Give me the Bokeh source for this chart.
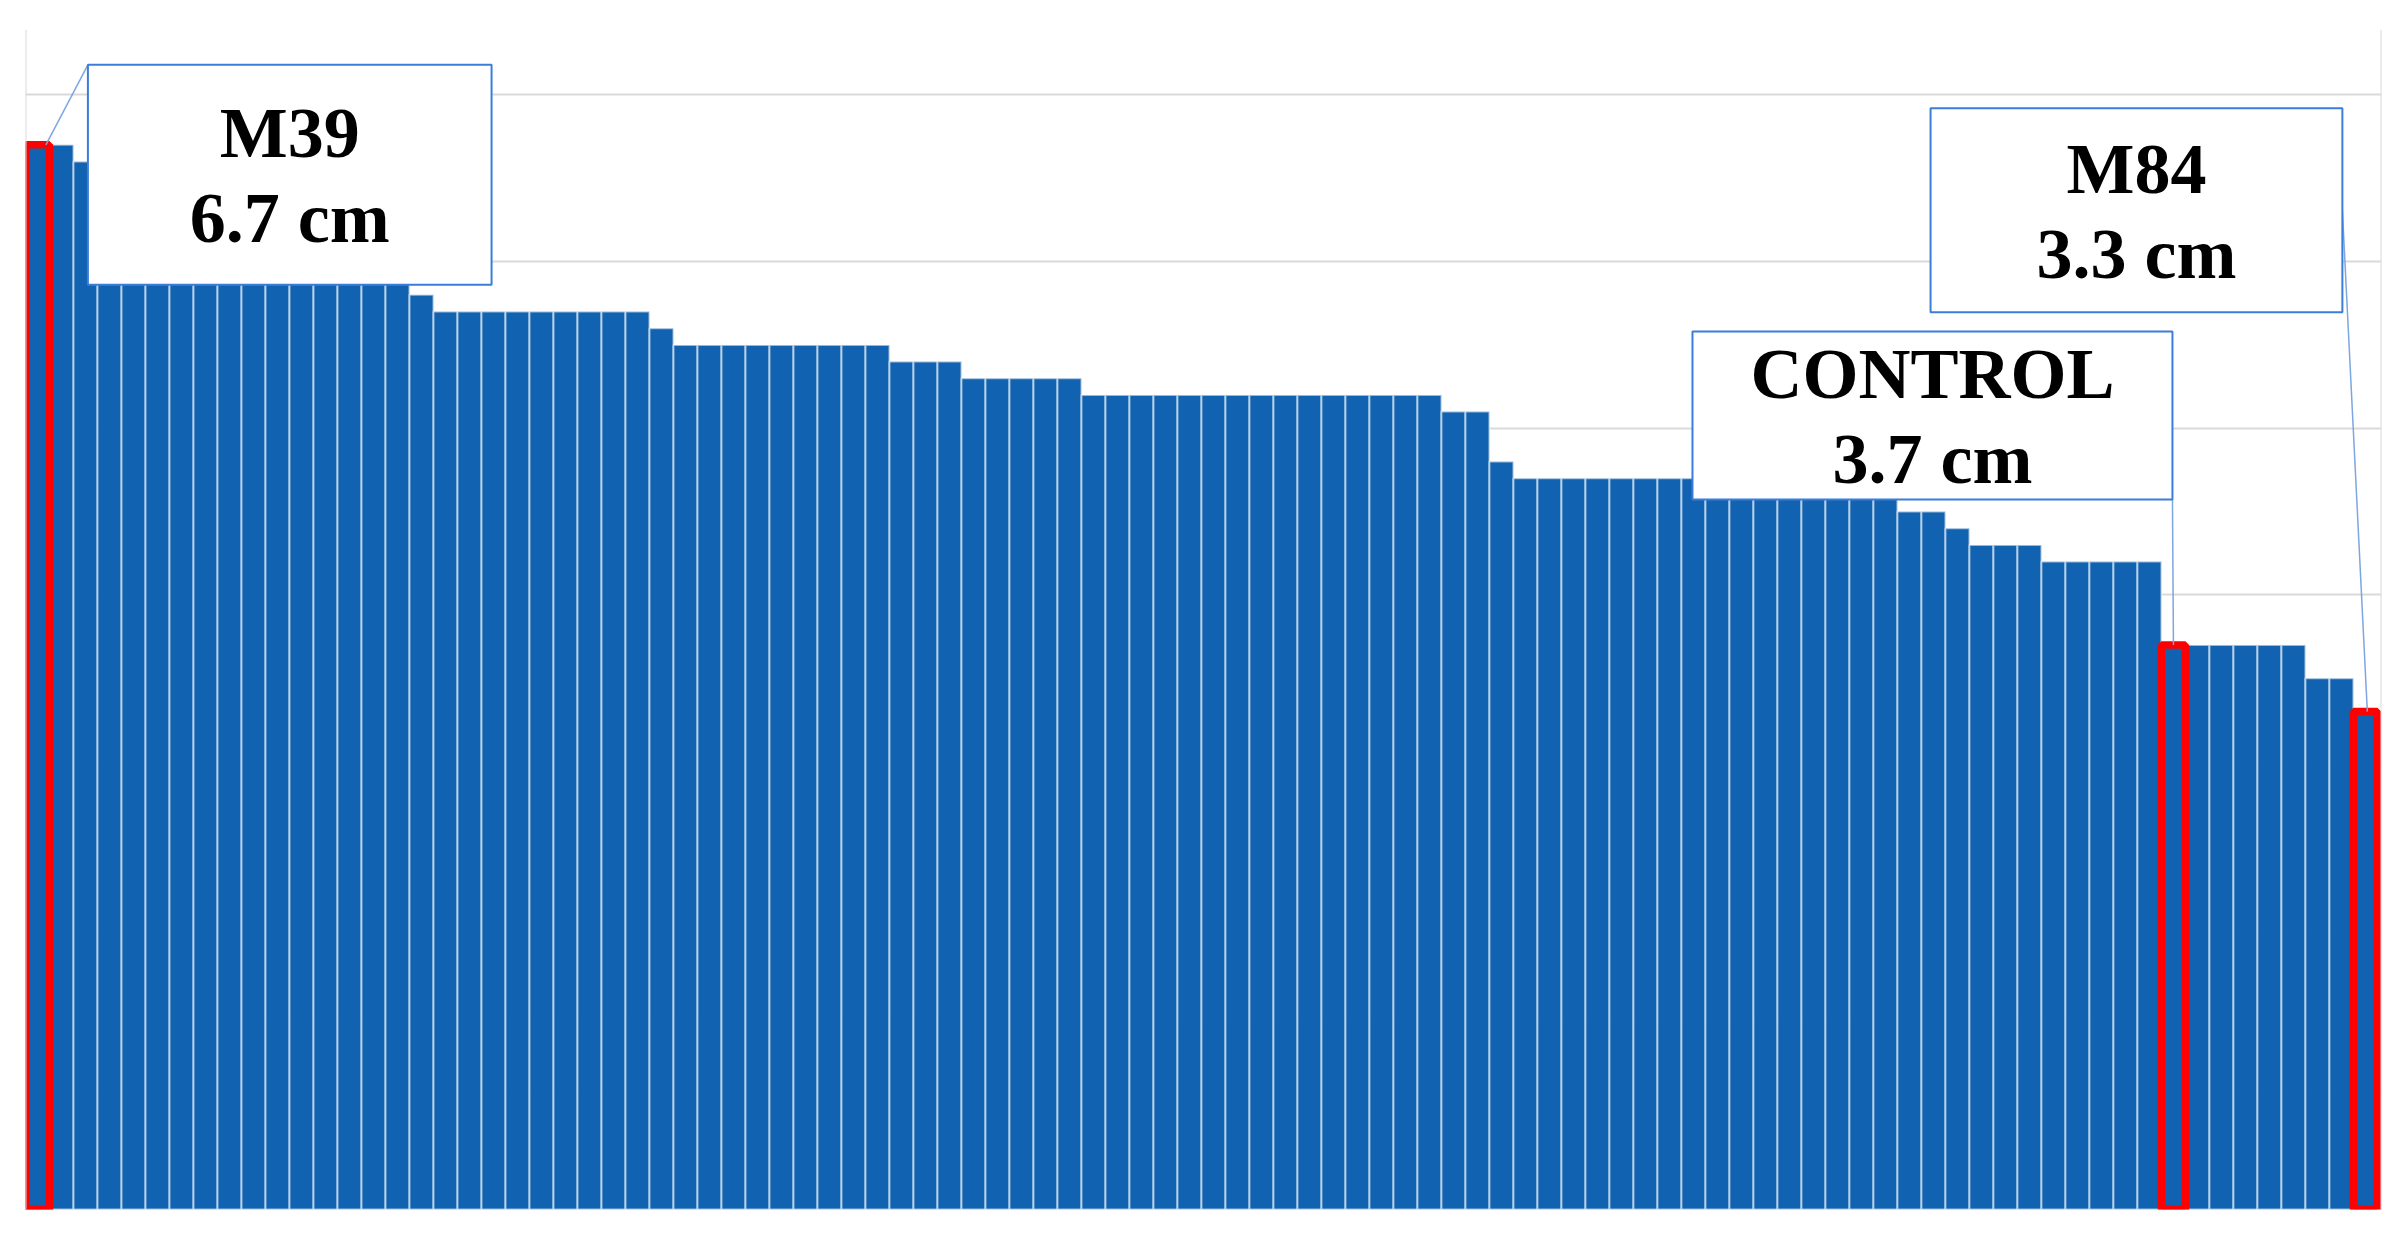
from bokeh.plotting import figure
from bokeh.models import ColumnDataSource, Range1d, FixedTicker, Span
from bokeh.core.properties import value
from bokeh.embed import file_html
from bokeh.resources import INLINE

# ---- data (shoot length, cm), sorted descending as in the chart ----
heights_a = [6.7, 6.7, 6.6, 6.5, 6.4, 6.3, 6.2, 6.1, 6.1, 6.0, 6.0, 6.0, 5.9, 5.9, 5.9, 5.9]
heights_b = [5.8, 5.7, 5.7, 5.7, 5.7, 5.7, 5.7, 5.7, 5.7, 5.7, 5.6,
             5.5, 5.5, 5.5, 5.5, 5.5, 5.5, 5.5, 5.5, 5.5]
heights_c = [5.4, 5.4, 5.4, 5.3, 5.3, 5.3, 5.3, 5.3,
             5.2, 5.2, 5.2, 5.2, 5.2, 5.2, 5.2, 5.2, 5.2, 5.2, 5.2, 5.2, 5.2, 5.2, 5.2,
             5.1, 5.1, 4.8]
heights_d = [4.7, 4.7, 4.7, 4.7, 4.7, 4.7, 4.7, 4.7, 4.7, 4.7, 4.7, 4.7,
             4.6, 4.6, 4.6, 4.6, 4.5, 4.5, 4.4, 4.3, 4.3, 4.3,
             4.2, 4.2, 4.2, 4.2, 4.2]
heights_e = [3.7, 3.7, 3.7, 3.7, 3.7, 3.7, 3.5, 3.5, 3.3]
heights = heights_a + heights_b + heights_c + heights_d + heights_e

callout_names = ["M39", "CONTROL", "M84"]
callout_index = [0, 89, 97]
callout_values = [6.7, 3.7, 3.3]
grid_values = [1, 2, 3, 4, 5, 6, 7]

positions = list(range(len(heights)))

# ---- layout / style ----
BLUE = "#1162b0"
FONT = "Liberation Serif"

p = figure(width=2400, height=1232, output_backend="svg", toolbar_location=None,
           x_range=Range1d(-0.5, 97.67), y_range=Range1d(0.313, 7.392),
           min_border_left=25, min_border_right=19, min_border_top=29, min_border_bottom=23)
p.axis.visible = False
p.outline_line_color = None
p.xgrid.grid_line_color = None
p.ygrid.ticker = FixedTicker(ticks=grid_values)
p.ygrid.grid_line_color = "#d9d9d9"
p.ygrid.grid_line_width = 2
p.background_fill_color = "white"

for loc in (p.x_range.start, p.x_range.end):
    p.add_layout(Span(location=loc, dimension="height", line_color="#d9d9d9", line_width=2))

src = ColumnDataSource(dict(x=positions, top=heights))
p.vbar(x="x", top="top", bottom=0, width=1.0, source=src,
       fill_color=BLUE, line_color="white", line_alpha=0.55, line_width=2)

hl = ColumnDataSource(dict(x=callout_index, top=callout_values))
p.vbar(x="x", top="top", bottom=0, width=1.0, source=hl,
       fill_color=BLUE, line_color="#ff0000", line_width=7.5)

# callout boxes (left, right, bottom, top in data units) and leader anchors
boxes = [(2.10, 18.92, 5.86, 7.18), (68.96, 88.96, 4.572, 5.58), (78.88, 96.04, 5.696, 6.92)]
leader_start = [(2.10, 7.18), (88.96, 4.572), (96.04, 6.306)]
leader_dx = [0.35, 0.0, 0.08]

for (l, r, b, t), (sx, sy), dx, idx, name, v in zip(boxes, leader_start, leader_dx,
                                                    callout_index, callout_names, callout_values):
    p.segment(x0=[sx], y0=[sy], x1=[idx + dx], y1=[heights[idx]],
              line_color="#7ea6e0", line_width=1.5)
    p.quad(left=[l], right=[r], bottom=[b], top=[t],
           fill_color="white", line_color="#3b7dd8", line_width=2)
    cx = (l + r) / 2
    cy = (b + t) / 2
    p.text(x=[cx, cx], y=[cy + 0.25, cy - 0.26], text=[name, f"{v} cm"],
           text_align="center", text_baseline="alphabetic",
           text_font=value(FONT), text_font_style="bold",
           text_font_size="72px", text_color="black")

open("out.html", "w").write(file_html(p, INLINE))
